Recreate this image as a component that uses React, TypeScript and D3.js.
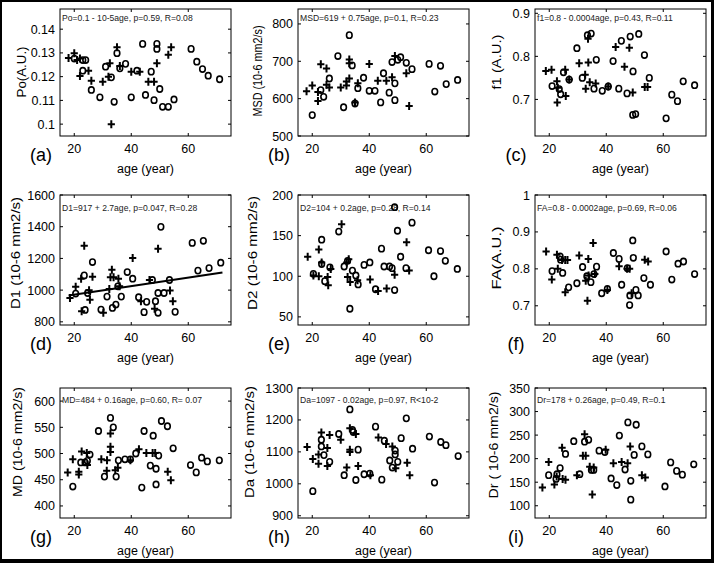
import React from "react";
import * as d3 from "d3";

type Pt = [number, number];

const xTicks = [20, 40, 60];
const xDomain: [number, number] = [15, 75];

const aCircles: Pt[] = [[20,0.1276],[23,0.1225],[23,0.127],[24,0.127],[26,0.1144],[29,0.1113],[31,0.1242],[33,0.1197],[34,0.1094],[35,0.1299],[36,0.1235],[38,0.1254],[40,0.1113],[42,0.1225],[44,0.1338],[45,0.1123],[47,0.1221],[48,0.1101],[49,0.1338],[49,0.1317],[50,0.1148],[51,0.1073],[53,0.1073],[55,0.1104],[61,0.1317],[63,0.1263],[65,0.1232],[67,0.1204],[71,0.1189]];
const aPlus: Pt[] = [[18,0.1279],[20,0.1299],[21,0.127],[22,0.1276],[22,0.1203],[25,0.1225],[26,0.1183],[30,0.1179],[32,0.12],[32.5,0.1256],[33,0.1],[35,0.1324],[36,0.1245],[40,0.1221],[43,0.1221],[46,0.1179],[48,0.1179],[49,0.1256],[53,0.1292],[54,0.1324]];

const bCircles: Pt[] = [[20,556],[23,623],[24,605],[26,654],[29,714],[31,577],[33,770],[34,689],[35,587],[36,628],[38,656],[40,621],[42,621],[44,590],[45,668],[47,616],[48,698],[49,596],[49,641],[50,704],[51,711],[53,696],[55,679],[61,693],[63,619],[65,688],[67,639],[71,650]];
const bPlus: Pt[] = [[18,620],[20,635],[22,618],[22,594],[23,692],[25,681],[25,637],[26,630],[30,630],[32,635],[33,705],[33,695],[33,654],[32,646],[35,590],[36,641],[40,693],[43,648],[46,648],[48,657],[49,714],[53,668],[54,580]];

const cCircles: Pt[] = [[21,0.731],[23.5,0.724],[24,0.712],[25,0.763],[27,0.746],[29.7,0.819],[31.6,0.75],[33.4,0.849],[34.7,0.853],[35.7,0.725],[36.5,0.792],[38.6,0.72],[40.7,0.73],[42.4,0.789],[44.4,0.725],[45.3,0.836],[47.3,0.714],[48.4,0.846],[49.4,0.765],[49.3,0.664],[50.3,0.666],[51.4,0.852],[53.4,0.803],[55.1,0.75],[61,0.656],[63,0.711],[65,0.696],[67,0.742],[71,0.733]];
const cPlus: Pt[] = [[18.8,0.766],[20.8,0.769],[22.7,0.742],[23,0.727],[22.8,0.693],[25.8,0.708],[25.6,0.769],[27,0.746],[30.5,0.784],[32.6,0.757],[33.7,0.786],[33.6,0.841],[32.8,0.725],[34.2,0.74],[36.3,0.737],[40.7,0.73],[43.3,0.822],[46.4,0.776],[48.1,0.82],[49.3,0.716],[53.5,0.729],[54.5,0.729]];

const dCircles: Pt[] = [[20.5,978],[23.5,1093],[23.8,875],[24.7,982],[26.4,1177],[29.4,877],[31.5,959],[33.4,888],[34.6,909],[35.3,1024],[36.5,959],[38.6,1114],[40.5,1072],[42.6,955],[44.5,861],[45.4,926],[47.4,1064],[48.5,930],[49.4,857],[49.4,982],[50.4,1399],[51.5,982],[53.4,1064],[55.4,863],[61.4,1298],[63.4,1123],[65.3,1311],[67.3,1139],[71.4,1173]];
const dPlus: Pt[] = [[18.5,951],[20.5,1022],[22.4,1072],[22.6,867],[23.5,1280],[25.2,999],[25.5,940],[26.4,1085],[30.2,857],[32.3,1007],[32.7,1081],[33.2,1129],[33.8,1081],[35.5,1072],[35.9,1024],[40.5,1202],[43.4,930],[46.4,1064],[48.2,882],[49.4,1261],[53.6,997],[54.6,930]];
const dFit = { intercept: 917, slope: 2.7, from: 18, to: 72 };

const eCircles: Pt[] = [[20.4,103],[23.3,145],[23.3,115],[24.4,94],[26.2,111],[29.3,155],[31.2,112],[32.4,119],[33.2,60],[34.1,107],[35.3,101],[36.1,90],[38.2,114],[40.2,117],[42.2,84],[44.3,134],[45.2,112],[47.1,112],[48,110],[48.9,83],[48.9,185],[49.9,156],[51,124],[52.9,110],[55,166],[60.8,132],[62.7,100],[65,131],[66.7,119],[70.9,109]];
const ePlus: Pt[] = [[18.4,124],[20.4,101],[22.3,100],[22.3,133],[23.3,117],[25.4,99],[25.6,89],[26.5,109],[30.3,164],[32.1,117],[32.8,121],[32.4,99],[33.3,93],[35.9,95],[40.3,96],[43.1,82],[46.1,85],[48.9,102],[53.1,142],[54,107]];

const fCircles: Pt[] = [[21,0.794],[23.8,0.834],[24,0.825],[24.7,0.789],[26.8,0.75],[29.7,0.761],[31.7,0.805],[33.2,0.78],[34.6,0.764],[35.7,0.786],[36.6,0.806],[38.4,0.734],[40.4,0.746],[42.5,0.843],[44.5,0.827],[45.4,0.757],[47.4,0.802],[48.2,0.702],[48.3,0.728],[49.3,0.877],[49.5,0.83],[50.4,0.743],[51.2,0.728],[53.2,0.775],[55.5,0.757],[61,0.847],[63,0.771],[65.2,0.814],[67.1,0.82],[71,0.786]];
const fPlus: Pt[] = [[18.9,0.847],[20.9,0.771],[22.7,0.838],[23,0.8],[24.5,0.824],[25.6,0.824],[26.4,0.824],[25.6,0.737],[30.5,0.836],[32.8,0.768],[33.7,0.827],[35.4,0.87],[33.8,0.782],[36,0.786],[33.4,0.714],[40.4,0.743],[44.5,0.807],[47.3,0.8],[48.2,0.8],[48.9,0.734],[53.5,0.825],[54.7,0.82]];

const gCircles: Pt[] = [[19.5,437],[22.3,483],[23.8,483],[24.6,486],[25.5,498],[28.5,543],[30.6,456],[32.7,568],[33.7,550],[34.7,456],[35.5,487],[37.8,489],[39.7,489],[41.6,500],[43.7,435],[44.5,543],[46.7,477],[47.7,534],[48.7,471],[48.7,441],[49.6,496],[50.6,562],[52.7,552],[54.7,510],[60.8,478],[62.8,464],[64.7,492],[66.7,485],[70.9,487]];
const gPlus: Pt[] = [[17.7,464],[19.5,489],[21.6,465],[21.6,460],[22.6,504],[24.4,501],[24.6,478],[29.5,489],[31.5,487],[31.4,467],[32.7,538],[32.7,513],[32.7,503],[34.4,468],[35.3,473],[39.7,487],[42.7,508],[45.3,501],[47.5,501],[48.4,501],[52.8,465],[53.9,449]];

const hCircles: Pt[] = [[20.2,977],[23.2,1138],[23.2,1117],[24.1,1090],[26.1,1069],[29.3,1156],[31.2,1027],[33.2,1233],[34.1,1169],[34.4,1162],[35.3,1012],[36.1,1107],[38.2,1030],[40.2,1032],[42.2,1179],[44.4,1013],[45.3,1135],[47.2,1073],[48.1,1051],[49.1,1104],[49.1,1092],[50,1069],[51.2,1143],[53,1205],[55.2,1110],[61.1,1148],[62.9,1004],[65.1,1131],[66.9,1121],[71.2,1087]];
const hPlus: Pt[] = [[18.2,1115],[20.2,1078],[22.2,1092],[22.2,1063],[23.2,1161],[25.3,1112],[25.3,1056],[26.1,1153],[30,1138],[32.1,1051],[33.2,1174],[33.2,1107],[33.2,1100],[35.3,1156],[36.1,1056],[40.4,1027],[43.2,1145],[45.9,1125],[48.1,1117],[49.3,1049],[53.3,1066],[54.2,1027]];

const iCircles: Pt[] = [[19.8,165],[22.4,157],[22.7,167],[23.8,180],[25.7,210],[28.6,237],[30.7,167],[32.4,236],[33.8,240],[34.8,176],[35.6,176],[37.5,217],[39.5,214],[41.7,158],[43.7,144],[44.6,249],[46.6,177],[47.6,277],[48.6,153],[48.6,113],[49.8,208],[50.5,272],[52.5,226],[54.6,209],[60.6,141],[62.6,192],[64.7,174],[66.7,166],[70.7,188]];
const iPlus: Pt[] = [[17.6,139],[19.8,193],[21.8,145],[22.6,162],[24.5,223],[24.7,157],[25.7,155],[29.7,165],[32.4,252],[31.8,206],[32.8,206],[34.2,183],[35.1,124],[35.6,181],[39.8,219],[42.5,190],[45.4,193],[47.5,190],[48.4,226],[52.5,165],[53.7,160]];

const aTicks = [0.1, 0.11, 0.12, 0.13, 0.14];
const bTicks = [500, 600, 700, 800];
const cTicks = [0.7, 0.8, 0.9];
const dTicks = [800, 1000, 1200, 1400, 1600];
const eTicks = [50, 100, 150, 200];
const fTicks = [0.7, 0.8, 0.9, 1];
const gTicks = [400, 450, 500, 550, 600];
const hTicks = [900, 1000, 1100, 1200, 1300];
const iTicks = [100, 150, 200, 250, 300, 350];

const FONT = "'Liberation Sans', Arial, sans-serif";
const colLeft = [60, 298, 535];
const boxW = 171;
const rowTop = [9, 195, 388];
const rowH = [127, 130, 130];
const noteDy = [11.5, 15.5, 15];

interface Panel {
  label: string; col: number; row: number;
  circles: Pt[]; plus: Pt[]; domain: [number, number]; ticks: number[];
  ylabel: string; ylabelX: number; ylabelY: number; ylabelLen: number; note: string;
  fit?: { intercept: number; slope: number; from: number; to: number };
}

const panels: Panel[] = [
  { label: "(a)", col: 0, row: 0, circles: aCircles, plus: aPlus, domain: [0.095, 0.1485], ticks: aTicks, ylabel: "Po(A.U.)", ylabelX: 22, ylabelY: 72, ylabelLen: 51, note: "Po=0.1 - 10-5age, p=0.59, R=0.08" },
  { label: "(b)", col: 1, row: 0, circles: bCircles, plus: bPlus, domain: [500, 840], ticks: bTicks, ylabel: "MSD (10-6 mm2/s)", ylabelX: 258, ylabelY: 71, ylabelLen: 91, note: "MSD=619 + 0.75age, p=0.1, R=0.23" },
  { label: "(c)", col: 2, row: 0, circles: cCircles, plus: cPlus, domain: [0.615, 0.91], ticks: cTicks, ylabel: "f1 (A.U.)", ylabelX: 497, ylabelY: 62, ylabelLen: 55, note: "f1=0.8 - 0.0004age, p=0.43, R=0.11" },
  { label: "(d)", col: 0, row: 1, circles: dCircles, plus: dPlus, domain: [780, 1600], ticks: dTicks, ylabel: "D1 (10-6 mm2/s)", ylabelX: 16, ylabelY: 253, ylabelLen: 112, note: "D1=917 + 2.7age, p=0.047, R=0.28", fit: dFit },
  { label: "(e)", col: 1, row: 1, circles: eCircles, plus: ePlus, domain: [40, 200], ticks: eTicks, ylabel: "D2 (10-6 mm2/s)", ylabelX: 253, ylabelY: 253, ylabelLen: 114, note: "D2=104 + 0.2age, p=0.28, R=0.14" },
  { label: "(f)", col: 2, row: 1, circles: fCircles, plus: fPlus, domain: [0.648, 1], ticks: fTicks, ylabel: "FA(A.U.)", ylabelX: 497, ylabelY: 258, ylabelLen: 63, note: "FA=0.8 - 0.0002age, p=0.69, R=0.06" },
  { label: "(g)", col: 0, row: 2, circles: gCircles, plus: gPlus, domain: [377, 625], ticks: gTicks, ylabel: "MD (10-6 mm2/s)", ylabelX: 18, ylabelY: 442, ylabelLen: 110, note: "MD=484 + 0.16age, p=0.60, R= 0.07" },
  { label: "(h)", col: 1, row: 2, circles: hCircles, plus: hPlus, domain: [893, 1300], ticks: hTicks, ylabel: "Da (10-6 mm2/s)", ylabelX: 250, ylabelY: 442, ylabelLen: 112, note: "Da=1097 - 0.02age, p=0.97, R<10-2" },
  { label: "(i)", col: 2, row: 2, circles: iCircles, plus: iPlus, domain: [74, 350], ticks: iTicks, ylabel: "Dr ( 10-6 mm2/s)", ylabelX: 494, ylabelY: 445, ylabelLen: 107, note: "Dr=178 + 0.26age, p=0.49, R=0.1" },
];

function PanelView({ p }: { p: Panel }) {
  const x0 = colLeft[p.col];
  const y0 = rowTop[p.row];
  const h = rowH[p.row];
  const x = d3.scaleLinear().domain(xDomain).range([x0, x0 + boxW]);
  const y = d3.scaleLinear().domain(p.domain).range([y0 + h, y0]);
  const tl = 3;
  const fmt = (v: number) => String(+v.toFixed(3));
  const line = d3.line<number>().x((a) => x(a)).y((a) => y(p.fit!.intercept + p.fit!.slope * a));
  return (
    <g>
      <rect x={x0} y={y0} width={boxW} height={h} fill="white" stroke="black" strokeWidth={1} />
      {xTicks.map((t) => (
        <g key={"xt" + t}>
          <line x1={x(t)} x2={x(t)} y1={y0 + h} y2={y0 + h - tl} stroke="black" />
          <line x1={x(t)} x2={x(t)} y1={y0} y2={y0 + tl} stroke="black" />
          <text x={x(t)} y={y0 + h + 17} textAnchor="middle" fontSize={12.5} fontFamily={FONT}>{t}</text>
        </g>
      ))}
      {p.ticks.map((t) => (
        <g key={"yt" + t}>
          <line x1={x0} x2={x0 + tl} y1={y(t)} y2={y(t)} stroke="black" />
          <line x1={x0 + boxW} x2={x0 + boxW - tl} y1={y(t)} y2={y(t)} stroke="black" />
          <text x={x0 - 5} y={y(t) + 4.5} textAnchor="end" fontSize={12.5} fontFamily={FONT}>{fmt(t)}</text>
        </g>
      ))}
      <text x={x0 + 2} y={y0 + noteDy[p.row]} fontSize={8.6} fontFamily={FONT} fill="#222">{p.note}</text>
      {p.fit && (
        <path d={line([p.fit.from, p.fit.to]) || ""} stroke="black" strokeWidth={2} fill="none" />
      )}
      {p.circles.map((c, i) => (
        <ellipse key={"c" + i} cx={x(c[0])} cy={y(c[1])} rx={2.8} ry={3.1} fill="none" stroke="black" strokeWidth={1.6} />
      ))}
      {p.plus.map((c, i) => {
        const cx = x(c[0]);
        const cy = y(c[1]);
        return (
          <path key={"p" + i} d={`M${cx - 3.6},${cy}H${cx + 3.6}M${cx},${cy - 4}V${cy + 4}`} stroke="black" strokeWidth={2} fill="none" />
        );
      })}
      <text x={x0 + boxW / 2} y={y0 + h + 37} textAnchor="middle" fontSize={12.5} fontFamily={FONT}>age (year)</text>
      <text x={x0 - 19} y={y0 + h + 25} textAnchor="middle" fontSize={18} fontFamily={FONT}>{p.label}</text>
      <text transform={`translate(${p.ylabelX},${p.ylabelY}) rotate(-90)`} textAnchor="middle" dy="0.35em" fontSize={12.5} fontFamily={FONT} textLength={p.ylabelLen} lengthAdjust="spacingAndGlyphs">{p.ylabel}</text>
    </g>
  );
}

export default function App() {
  return (
    <svg width={714} height={563} style={{ position: "absolute", left: 0, top: 0 }}>
      <rect x={0} y={0} width={714} height={563} fill="black" />
      <rect x={2} y={2} width={709} height={557} fill="white" />
      {panels.map((p) => (
        <PanelView key={p.label} p={p} />
      ))}
    </svg>
  );
}
